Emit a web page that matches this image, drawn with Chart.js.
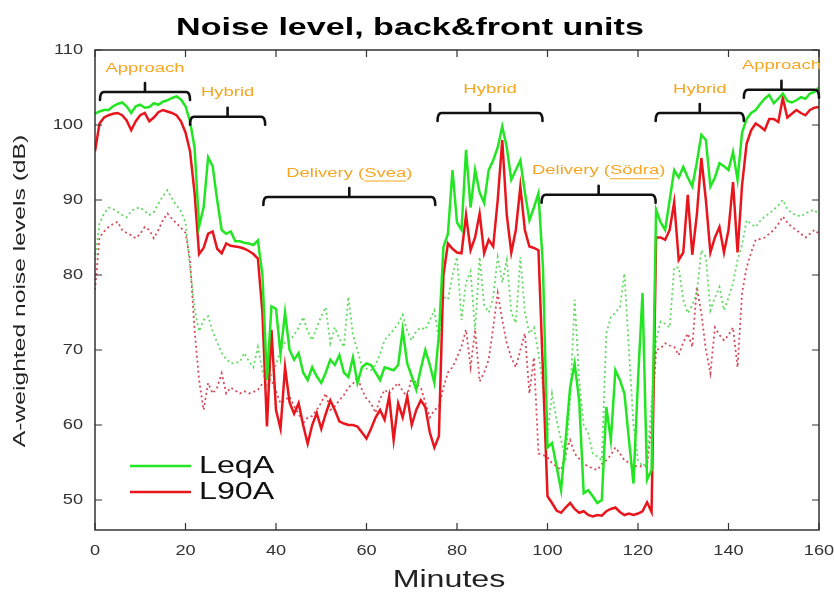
<!DOCTYPE html>
<html>
<head>
<meta charset="utf-8">
<script src="https://cdn.jsdelivr.net/npm/chart.js@4.4.1/dist/chart.umd.min.js"></script>
<style>
    html, body { margin: 0; padding: 0; background: #fff; }
    #wrap { width: 834px; height: 599px; }
</style>
</head>
<body>
<div id="wrap"><canvas id="noise"></canvas></div>
<script>
// one sample per minute, 0..160
const minutes = Array.from({ length: 161 }, (_, i) => i);

const leqA = [
    101.5, 101.8, 102, 102, 102.5, 102.8, 103, 102.5, 101.6, 102.5,
    102.7, 102.3, 102.4, 102.9, 102.7, 103.1, 103.3, 103.6, 103.8, 103.4,
    102.5, 100.5, 97, 86.5, 89, 95.7, 94.5, 90, 86, 85.5,
    85.8, 84.5, 84.5, 84.3, 84.2, 84, 84.6, 80, 66, 75.8,
    75.5, 69.5, 75, 70, 68.7, 69.6, 67, 66, 67.7, 66.5,
    65.6, 67, 68.7, 68, 69.3, 67, 66.4, 69, 65.6, 67.7,
    68.2, 68, 67, 66, 67.7, 67.5, 67.3, 68, 72.7, 68.2,
    66.5, 64.7, 67.5, 70, 68, 65.6, 72, 83.7, 85.5, 94,
    87, 86, 96.7, 89, 94, 91, 89.6, 94, 95.3, 97,
    99.8, 97, 92.7, 94, 95.3, 91, 87.3, 89, 90.9, 81,
    57, 57.6, 54.5, 51.3, 58, 65, 68.2, 63.3, 50.9, 51.3,
    50.5, 49.6, 50, 62.4, 58, 67.3, 66, 64.2, 58, 52.2,
    66, 77.6, 52.7, 54, 88.7, 87, 86, 90, 94, 93,
    94.4, 93, 91.8, 95, 98.7, 98, 91.8, 93, 94.9, 94.5,
    94, 96.4, 92.7, 99, 100.8, 101.6, 102, 102.8, 103.5, 104,
    102.9, 103.5, 104.2, 103.2, 103, 103.3, 103.7, 103.5, 104.2, 104.4,
    105
];

const l90A = [
    96.5, 100.2, 101, 101.3, 101.5, 101.6, 101.3, 100.6, 99.3, 100.5,
    101.3, 101.6, 100.5, 101, 101.7, 102, 101.8, 101.6, 101.3, 100.5,
    99, 96.5, 91, 82.8, 83.6, 85.5, 85.8, 83.5, 82.9, 84.2,
    83.9, 83.8, 83.7, 83.5, 83.2, 82.8, 82.2, 75, 59.8, 72.7,
    62, 59.5, 67.7, 63, 61.5, 62.9, 60, 57.5, 60, 61.6,
    59.5, 61.5, 63.3, 62, 60.5, 60.2, 60, 60, 59.8, 59,
    58.2, 59.5, 61, 62, 60.7, 63.8, 58, 62.9, 61, 63.8,
    60, 62, 63.3, 62.4, 59, 57, 58.5, 80, 84.2, 83.5,
    83, 82.9, 88, 83.3, 85, 88.2, 82.9, 84.7, 83.8, 90,
    98, 88, 83, 86, 91.8, 86, 83.8, 83.6, 83.3, 67,
    50.5, 49.6, 48.6, 48.3, 49, 49.6, 48.8, 48.3, 48.5, 48,
    47.8, 48, 47.9, 48.5, 48.8, 49, 48.4, 48, 48.2, 48,
    48.2, 48.5, 49.7, 48.4, 85, 85, 84.7, 86, 89.7, 82,
    83, 90.7, 82.7, 88, 95.6, 90, 83, 85, 86.4, 83,
    86, 92.4, 83, 92, 97.5, 99.3, 100.2, 99.8, 99.3, 100.8,
    100.8, 100.4, 103.6, 101, 101.5, 102, 101.6, 101.3, 102, 102.3,
    102.4
];

const leqAOther = [
    82, 86.9, 88.2, 89, 88.8, 88.4, 88, 87.7, 88.5, 88.9,
    89, 88.5, 88, 88.4, 89.5, 90.5, 91.3, 90.2, 89.3, 88.5,
    87, 81, 75.5, 72.5, 74, 74.5, 72.5, 71, 69.6, 68.8,
    68.2, 68.3, 68.4, 69.6, 68.5, 67.7, 70.4, 67.3, 65, 66.7,
    68, 70, 71, 71.3, 72, 73, 74.4, 72.5, 71.3, 73,
    74.5, 75.7, 70.9, 73, 71.5, 70.4, 77.1, 72, 70, 67.7,
    67.5, 67.3, 68, 69.5, 71.3, 72, 72.7, 73.5, 74.7, 72.5,
    71.3, 72.5, 73, 72.7, 74, 75.3, 71.3, 77.1, 76.7, 80,
    82.4, 74, 79, 80.5, 72.7, 82.4, 76, 75, 77, 82.4,
    79, 82, 75, 73.6, 82.4, 75, 72.2, 73, 69.6, 65.1,
    58.9, 64.2, 60.7, 58, 55.3, 63.3, 76.7, 66, 60, 58.9,
    56.2, 55.8, 55.3, 72.2, 74.4, 75, 75.7, 80.2, 70, 60,
    55.3, 54.5, 55, 63, 71.3, 73.8, 73.5, 73, 81, 81,
    76.7, 74.9, 76, 77.6, 83.3, 82.4, 75.3, 77, 78.4, 75.3,
    77, 78.9, 82, 84, 87.3, 86.8, 86.4, 87.2, 87.8, 88.2,
    88.7, 89.3, 90, 88.8, 88.2, 88, 87.8, 88.2, 88.5, 88.7,
    88
];

const l90AOther = [
    78, 85, 85.8, 86.4, 86.8, 87.1, 86, 85.6, 85.3, 84.9,
    85.5, 86.4, 86, 84.9, 86, 87.3, 88.2, 87.5, 86.9, 86.3,
    85.6, 82, 72.7, 66, 62, 65.6, 64.2, 65, 66.9, 64.2,
    65, 64.6, 64.2, 64.5, 64.2, 64.4, 64.7, 65.5, 66, 66,
    64.5, 62.9, 63.3, 63.8, 62.5, 61.5, 60.2, 61, 61.2, 62,
    63, 64.2, 62, 62.5, 63.3, 64, 65, 65.5, 66.4, 64.7,
    63.5, 62.9, 61.6, 63.5, 64.7, 64.2, 65, 65.6, 64.5, 63.8,
    66.4, 65.5, 65, 63, 61, 62, 62.4, 65, 67, 67.7,
    69, 70.5, 72.7, 67.7, 72.7, 65.8, 67, 68.7, 73, 77.6,
    74, 70.9, 69, 67.7, 70, 72.2, 64.2, 69, 56.2, 56,
    55.7, 54.9, 54.5, 54, 56.2, 58, 56.2, 55.5, 54.8, 54.5,
    54.2, 54, 54.8, 55.3, 56, 57, 56.2, 55.3, 55, 54.5,
    54.5, 54.5, 54.5, 60, 70, 70.2, 70.9, 70.6, 70.4, 69.3,
    71, 72.2, 70.4, 78.4, 74.9, 70, 66.9, 73, 72, 71.3,
    72, 73, 67.7, 77.6, 81, 83, 84.7, 84.8, 85, 85.5,
    86, 86.8, 87.8, 87, 86.4, 86, 85.5, 85, 85.5, 86,
    85.5
];

const xTicks = [0, 20, 40, 60, 80, 100, 120, 140, 160];
const yTicks = [50, 60, 70, 80, 90, 100, 110];

// driving phases: name, start/end minute, bracket level (dB)
const phaseNames = ["Approach", "Hybrid", "Delivery (Svea)", "Hybrid", "Delivery (Södra)", "Hybrid", "Approach"];
const phaseStart = [1.1, 21, 37.2, 75.7, 98.7, 123.9, 143.4];
const phaseEnd = [21, 37.6, 75.2, 98.9, 123.9, 143.4, 160];
const phaseLevel = [104.4, 101.1, 90.4, 101.6, 90.7, 101.6, 104.7];

const titleText = "Noise level, back&front units";
const xTitle = "Minutes";
const yTitle = "A-weighted noise levels (dB)";

const font = "'Liberation Sans', Arial, Helvetica, sans-serif";
const orange = "#f5a623";

const toPoints = (arr) => arr.map((v, i) => ({ x: minutes[i], y: v }));

// the figure text is set wide, so draw it with a horizontal stretch
function wideText(ctx, text, x, y, sx, align, angle = 0) {
    ctx.save();
    ctx.translate(x, y);
    if (angle) ctx.rotate(angle);
    ctx.scale(sx, 1);
    ctx.textAlign = align;
    ctx.textBaseline = "middle";
    ctx.fillText(text, 0, 0);
    ctx.restore();
}

// inward ticks on all four sides plus the closing box
const boxPlugin = {
    id: "box",
    afterDatasetsDraw(chart) {
        const { ctx, chartArea: a, scales } = chart;
        ctx.save();
        ctx.strokeStyle = "#333";
        ctx.lineWidth = 1.5;
        ctx.strokeRect(a.left, a.top, a.right - a.left, a.bottom - a.top);
        ctx.lineWidth = 1.2;
        ctx.beginPath();
        xTicks.forEach((t) => {
            const x = scales.x.getPixelForValue(t);
            ctx.moveTo(x, a.bottom); ctx.lineTo(x, a.bottom - 7);
            ctx.moveTo(x, a.top); ctx.lineTo(x, a.top + 7);
        });
        yTicks.forEach((t) => {
            const y = scales.y.getPixelForValue(t);
            ctx.moveTo(a.left, y); ctx.lineTo(a.left + 7, y);
            ctx.moveTo(a.right, y); ctx.lineTo(a.right - 7, y);
        });
        ctx.stroke();
        ctx.restore();
    },
};

// title, axis titles and tick labels
const textPlugin = {
    id: "figText",
    afterDraw(chart) {
        const { ctx, chartArea: a, scales } = chart;
        ctx.save();
        ctx.fillStyle = "#000";
        ctx.font = "bold 24px " + font;
        wideText(ctx, titleText, chart.width / 2 - 7, 28, 1.42, "center");

        ctx.fillStyle = "#333";
        ctx.font = "14px " + font;
        xTicks.forEach((t) => {
            wideText(ctx, String(t), scales.x.getPixelForValue(t), a.bottom + 21, 1.3, "center");
        });
        yTicks.forEach((t) => {
            wideText(ctx, String(t), a.left - 12, scales.y.getPixelForValue(t), 1.3, "right");
        });

        ctx.fillStyle = "#222";
        ctx.font = "23px " + font;
        wideText(ctx, xTitle, (a.left + a.right) / 2 - 8, a.bottom + 51, 1.4, "center");
        ctx.font = "17px " + font;
        wideText(ctx, yTitle, 20, (a.top + a.bottom) / 2 + 1, 1.45, "center", -Math.PI / 2);
        ctx.restore();
    },
};

// bracket over each phase, with its name above
const phasePlugin = {
    id: "phases",
    afterDatasetsDraw(chart) {
        const { ctx, scales } = chart;
        ctx.save();
        phaseNames.forEach((name, i) => {
            const x0 = scales.x.getPixelForValue(phaseStart[i]);
            const x1 = scales.x.getPixelForValue(phaseEnd[i]);
            const y = scales.y.getPixelForValue(phaseLevel[i]);
            const xm = (x0 + x1) / 2;

            ctx.strokeStyle = "#111";
            ctx.lineWidth = 2.6;
            ctx.lineJoin = "round";
            ctx.lineCap = "round";
            ctx.beginPath();
            ctx.moveTo(x0, y + 8);
            ctx.quadraticCurveTo(x0, y, x0 + 4, y);
            ctx.lineTo(x1 - 4, y);
            ctx.quadraticCurveTo(x1, y, x1, y + 8);
            ctx.moveTo(xm, y);
            ctx.lineTo(xm, y - 9);
            ctx.stroke();

            const sx = 1.42;
            ctx.font = "13px " + font;
            ctx.fillStyle = orange;
            const w = ctx.measureText(name).width * sx;
            const tx = xm - w / 2;
            const ty = y - 24;
            wideText(ctx, name, tx, ty, sx, "left");

            // place name in brackets is underlined
            const open = name.indexOf("(");
            if (open >= 0) {
                const before = ctx.measureText(name.slice(0, open + 1)).width * sx;
                const word = ctx.measureText(name.slice(open + 1, name.length - 1)).width * sx;
                ctx.strokeStyle = orange;
                ctx.lineWidth = 1;
                ctx.lineCap = "butt";
                ctx.beginPath();
                ctx.moveTo(tx + before, ty + 8);
                ctx.lineTo(tx + before + word, ty + 8);
                ctx.stroke();
            }
        });
        ctx.restore();
    },
};

// legend inside the lower left of the plot
const insideLegend = {
    id: "insideLegend",
    afterDraw(chart) {
        const { ctx, chartArea: a } = chart;
        ctx.save();
        chart.data.datasets.slice(0, 2).forEach((ds, i) => {
            const y = a.bottom - 64 + i * 26;
            ctx.strokeStyle = ds.borderColor;
            ctx.lineWidth = 2.5;
            ctx.beginPath();
            ctx.moveTo(a.left + 35, y);
            ctx.lineTo(a.left + 96, y);
            ctx.stroke();
            ctx.fillStyle = "#111";
            ctx.font = "23px " + font;
            wideText(ctx, ds.label, a.left + 104, y + 1, 1.4, "left");
        });
        ctx.restore();
    },
};

new Chart(document.getElementById("noise"), {
    type: "line",
    data: {
        datasets: [
            { label: "LeqA", data: toPoints(leqA), borderColor: "#22e622", borderWidth: 2.5 },
            { label: "L90A", data: toPoints(l90A), borderColor: "#e8161c", borderWidth: 2.5 },
            { label: "LeqA (front)", data: toPoints(leqAOther), borderColor: "rgba(70,210,70,0.85)", borderWidth: 1.8, borderDash: [2, 3] },
            { label: "L90A (front)", data: toPoints(l90AOther), borderColor: "rgba(205,45,60,0.85)", borderWidth: 1.8, borderDash: [2, 3] },
        ],
    },
    options: {
        responsive: true,
        maintainAspectRatio: false,
        animation: false,
        layout: { padding: { left: 0, right: 15, top: 50, bottom: 0 } },
        elements: { point: { radius: 0 }, line: { tension: 0 } },
        plugins: {
            legend: { display: false },
            tooltip: { enabled: false },
            title: { display: false },
        },
        scales: {
            x: {
                type: "linear",
                min: 0,
                max: 160,
                afterBuildTicks: (s) => { s.ticks = xTicks.map((v) => ({ value: v })); },
                afterFit: (s) => { s.height = 69; },
                grid: { display: false },
                border: { display: false },
                ticks: { display: false },
            },
            y: {
                min: 46,
                max: 110,
                afterBuildTicks: (s) => { s.ticks = yTicks.map((v) => ({ value: v })); },
                afterFit: (s) => { s.width = 95; },
                grid: { display: false },
                border: { display: false },
                ticks: { display: false },
            },
        },
    },
    plugins: [boxPlugin, phasePlugin, insideLegend, textPlugin],
});
</script>
</body>
</html>
